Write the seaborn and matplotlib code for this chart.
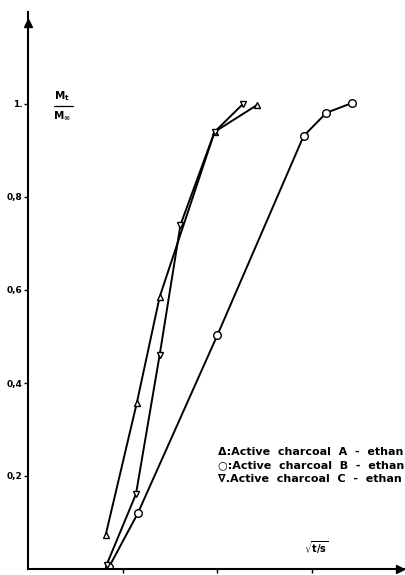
import numpy as np
import pandas as pd
import seaborn as sns
import matplotlib
matplotlib.use('Agg')
import matplotlib.pyplot as plt

# values (x in sqrt(t/s) units, y = Mt/Minf)
a_x = [0.82, 1.15, 1.39, 1.97, 2.42]
a_y = [0.073, 0.358, 0.585, 0.94, 0.998]
b_x = [0.855, 1.16, 2.00, 2.91, 3.15, 3.42]
b_y = [0.004, 0.12, 0.503, 0.931, 0.981, 1.002]
c_x = [0.83, 1.14, 1.39, 1.61, 1.97, 2.27]
c_y = [0.009, 0.161, 0.46, 0.74, 0.94, 1.0]

y_ticks = [0.2, 0.4, 0.6, 0.8, 1.0]
y_labels = ['0,2', '0,4', '0,6', '0,8', '1.']
x_ticks = [1, 2, 3]
# the reference shows the legend cut at the page edge after "ethan"
legend_lines = ['\u0394:Active  charcoal  A  -  ethan',
                '\u25cb:Active  charcoal  B  -  ethan',
                '\u2207.Active  charcoal  C  -  ethan']

sns.set_style('white')
plt.rcParams['font.family'] = ['DejaVu Sans']
plt.rcParams['text.color'] = 'black'
plt.rcParams['ytick.color'] = 'black'
plt.rcParams['xtick.color'] = 'black'

df = pd.concat([
    pd.DataFrame({'x': a_x, 'y': a_y, 'serie': 'A'}),
    pd.DataFrame({'x': b_x, 'y': b_y, 'serie': 'B'}),
    pd.DataFrame({'x': c_x, 'y': c_y, 'serie': 'C'}),
])

fig = plt.figure(figsize=(4.06, 5.75), dpi=100)
W, H = 406, 575
ax = fig.add_axes([28 / W, 6 / H, (W - 28) / W, (569 - 12) / H])

mk = {'A': ('^', 4), 'B': ('o', 5.5), 'C': ('v', 4)}
for s, d in df.groupby('serie'):
    m, size = mk[s]
    sns.lineplot(data=d, x='x', y='y', ax=ax, sort=False, color='black',
                 lw=1.4, marker=m, ms=size, markerfacecolor='white',
                 markeredgecolor='black', markeredgewidth=1.0, legend=False)

ax.set_xlim(0, (W - 28) / 94.7)
ax.set_ylim(0, (569 - 12) / 465)
for sp in ['top', 'right']:
    ax.spines[sp].set_visible(False)
ax.spines['left'].set_linewidth(1.5)
ax.spines['bottom'].set_linewidth(1.5)
ax.spines['left'].set_color('black')
ax.spines['bottom'].set_color('black')

# arrow heads on the axes
ax.plot(0, 1.175, marker='^', color='black', ms=6, clip_on=False)
ax.plot(3.93, 0, marker='>', color='black', ms=6, clip_on=False)

ax.set_yticks(y_ticks)
ax.set_yticklabels(y_labels, fontsize=6.5, fontweight='bold')
ax.set_xticks(x_ticks)
ax.set_xticklabels([])
ax.tick_params(axis='both', direction='out', length=3, width=1, color='black',
               left=True, bottom=True, pad=1)
ax.set_xlabel('')
ax.set_ylabel('')

# axis captions
ax.text(0.36, 1.003, r'$\mathbf{M_t}$', fontsize=7.5,
        ha='center', va='bottom')
ax.plot([0.27, 0.47], [0.995, 0.995], color='black', lw=0.9, clip_on=False)
ax.text(0.36, 0.987, r'$\mathbf{M_\infty}$', fontsize=7.5,
        ha='center', va='top')
ax.text(3.05, 0.045, r'$\mathbf{\sqrt{t/s}}$', fontsize=7, ha='center',
        va='center')

for i, line in enumerate(legend_lines):
    fig.text(218 / W, 1 - (452 + 13.5 * i) / H, line, fontsize=8,
             fontweight='bold', ha='left', va='center')

fig.savefig('out.png', dpi=100)
